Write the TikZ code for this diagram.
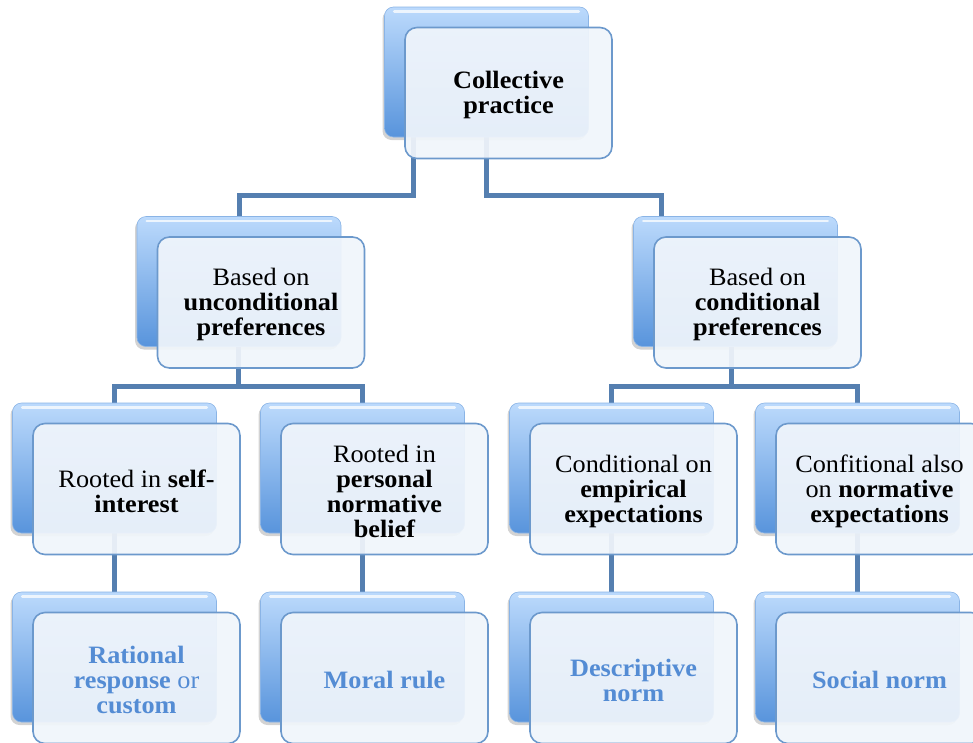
\documentclass[tikz,border=0pt]{standalone}
\usepackage{fontspec}
\setmainfont[FakeStretch=1.05]{Liberation Serif}
\usetikzlibrary{shadows,calc}
\pgfdeclarelayer{background}
\pgfsetlayers{background,main}
\definecolor{connC}{RGB}{85,127,176}
\definecolor{backTop}{RGB}{188,218,252}
\definecolor{backBot}{RGB}{88,148,220}
\definecolor{frontFill}{RGB}{240,245,251}
\definecolor{frontEdge}{RGB}{108,153,204}
\definecolor{normText}{RGB}{84,140,212}
\tikzset{
  backbox/.style={rectangle, rounded corners=9pt, minimum width=204pt, minimum height=130pt,
    top color=backTop, bottom color=backBot, draw=backBot!70!white, line width=0.6pt,
    drop shadow={shadow xshift=-2pt, shadow yshift=-3pt, opacity=0.35}, inner sep=0pt},
  frontbox/.style={rectangle, rounded corners=12pt, minimum width=207pt, minimum height=131pt,
    fill=frontFill, fill opacity=0.93, draw=frontEdge, line width=1.6pt, inner sep=0pt},
  boxtext/.style={align=center, font=\fontsize{25}{25}\selectfont, inner sep=0pt},
  normtext/.style={text=normText},
  conn/.style={draw=connC, line width=5pt},
  glint/.style={draw=white, line width=2.5pt, opacity=0.75, line cap=round},
}
\newcommand\pairbox[5][]{%
  \node[backbox] (#2b) at ($(#3,#4)+(-22,-21)$) {};
  \draw[glint] ($(#2b.north west)+(10,5)$) -- ($(#2b.north east)+(-10,5)$);
  \node[frontbox] (#2) at (#3,#4) {};
  \node[boxtext,#1] (#2t) at ($(#2.center)+(0,2)$) {#5};
}
\begin{document}
\begin{tikzpicture}[x=1pt,y=-1pt]
\useasboundingbox (0,0) rectangle (973,742);
\clip (0,0) rectangle (973,742);

\pairbox{top}{508.5}{93}{\textbf{Collective}\\\textbf{practice}}
\pairbox{ua}{261}{302.5}{Based on\\\textbf{unconditional}\\\textbf{preferences}}
\pairbox{ub}{757.5}{302.5}{Based on\\\textbf{conditional}\\\textbf{preferences}}
\pairbox{ra}{136.5}{489}{Rooted in \textbf{self-}\\\textbf{interest}}
\pairbox{rb}{384.5}{489}{Rooted in\\\textbf{personal}\\\textbf{normative}\\\textbf{belief}}
\pairbox{rc}{633.5}{489}{Conditional on\\\textbf{empirical}\\\textbf{expectations}}
\pairbox{rd}{879.5}{489}{Confitional also\\on \textbf{normative}\\\textbf{expectations}}
\pairbox[normtext]{na}{136.5}{678}{\textbf{Rational}\\\textbf{response} or\\\textbf{custom}}
\pairbox[normtext]{nb}{384.5}{678}{\textbf{Moral rule}}
\pairbox[normtext]{nc}{633.5}{678}{\textbf{Descriptive}\\\textbf{norm}}
\pairbox[normtext]{nd}{879.5}{678}{\textbf{Social norm}}

\coordinate (j1) at (413,195);
\coordinate (j2) at (661,195);
\coordinate (j3) at (238,386);
\coordinate (j4) at (731,386);

\begin{pgfonlayer}{background}
  \draw[conn] (topb.south -| j1) -- (j1) -| (uab.north);
  \draw[conn] (topb.south) |- (j2) -- (j2 |- ubb.north);
  \draw[conn] (uab.south -| j3) -- (j3);
  \draw[conn] (rab.north) |- (j3) -| (rbb.north);
  \draw[conn] (ubb.south -| j4) -- (j4);
  \draw[conn] (rcb.north) |- (j4) -| (rdb.north);
  \draw[conn] (rab.south) -- (nab.north);
  \draw[conn] (rbb.south) -- (nbb.north);
  \draw[conn] (rcb.south) -- (ncb.north);
  \draw[conn] (rdb.south) -- (ndb.north);
\end{pgfonlayer}
\end{tikzpicture}
\end{document}
